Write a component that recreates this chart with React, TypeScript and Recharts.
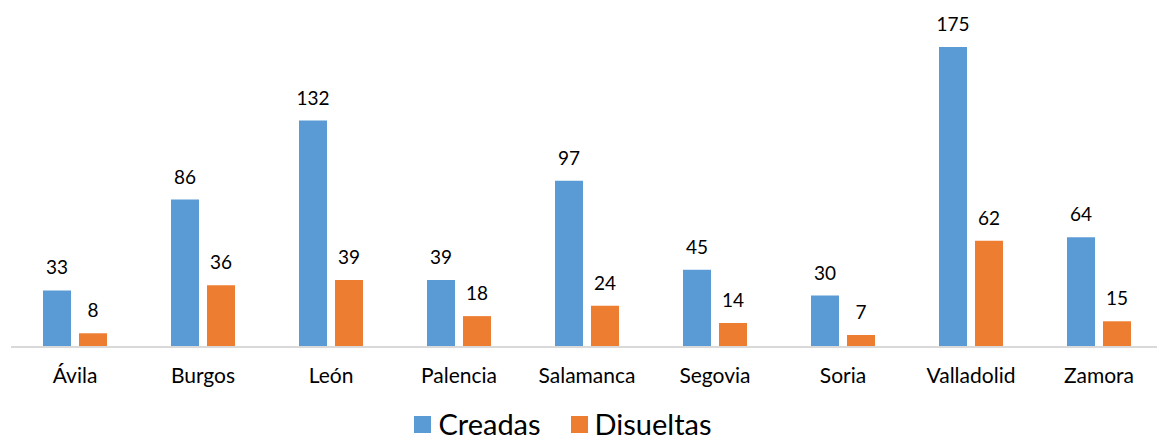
import { Bar, BarChart, LabelList, Legend, XAxis, YAxis } from "recharts"

const provincias = ["Ávila", "Burgos", "León", "Palencia", "Salamanca", "Segovia", "Soria", "Valladolid", "Zamora"]
const creadas = [33, 86, 132, 39, 97, 45, 30, 175, 64]
const disueltas = [8, 36, 39, 18, 24, 14, 7, 62, 15]

const data = provincias.map((p, i) => ({ name: p, creadas: creadas[i], disueltas: disueltas[i] }))

const font = "Lato, 'Open Sans', sans-serif"
const BLUE = "#5B9BD5"
const ORANGE = "#ED7D31"

function LegendBox() {
    const items = [
        { label: "Creadas", color: BLUE },
        { label: "Disueltas", color: ORANGE },
    ]
    return (
        <div style={{ display: "flex", justifyContent: "center", gap: 30, fontFamily: font, fontSize: 29, color: "#000", transform: "translate(-24px, 2px)", lineHeight: "34px" }}>
            {items.map((it) => (
                <div key={it.label} style={{ display: "flex", alignItems: "center", gap: 7 }}>
                    <span style={{ width: 17, height: 17, background: it.color, display: "inline-block" }} />
                    <span>{it.label}</span>
                </div>
            ))}
        </div>
    )
}

export default function App() {
    return (
        <div style={{ position: "absolute", left: 0, top: 0, width: 1157, height: 443, background: "#fff" }}>
            <BarChart
                width={1157}
                height={443}
                data={data}
                margin={{ top: 4, right: -6, left: 11, bottom: 0 }}
                barSize={28}
                barGap={8}
            >
                <XAxis
                    dataKey="name"
                    height={58}
                    tickLine={false}
                    axisLine={{ stroke: "#D9D9D9", strokeWidth: 2 }}
                    tick={{ fill: "#000", fontSize: 21, fontFamily: font }}
                    tickMargin={15}
                />
                <YAxis hide domain={[0, 200]} />
                <Legend verticalAlign="bottom" height={38} content={() => <LegendBox />} />
                <Bar dataKey="creadas" fill={BLUE} isAnimationActive={false}>
                    <LabelList dataKey="creadas" position="top" offset={16} fill="#000" fontSize={19} fontFamily={font} />
                </Bar>
                <Bar dataKey="disueltas" fill={ORANGE} isAnimationActive={false}>
                    <LabelList dataKey="disueltas" position="top" offset={16} fill="#000" fontSize={19} fontFamily={font} />
                </Bar>
            </BarChart>
        </div>
    )
}
